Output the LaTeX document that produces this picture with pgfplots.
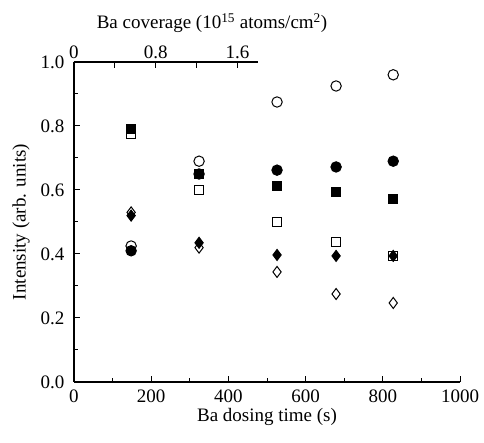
\documentclass[border=0pt]{standalone}
\usepackage{pgfplots}
\pgfplotsset{compat=1.18}
\usepackage{fontspec}
\setmainfont{Liberation Serif}
\begin{document}
\begin{tikzpicture}
\useasboundingbox (-74pt,-61pt) rectangle (410pt,382pt);
\begin{axis}[name=main, width=386pt, height=320pt, scale only axis,
  xmin=0, xmax=1000, ymin=0, ymax=1,
  axis x line=bottom, axis y line=left,
  axis line style={-, line width=1.2pt},
  tick align=inside, tick style={black, line width=1pt},
  major tick length=6pt, minor tick length=4pt,
  xtick={0,200,400,600,800,1000}, minor xtick={100,300,500,700,900},
  ytick={0,0.2,0.4,0.6,0.8,1.0}, minor ytick={0.1,0.3,0.5,0.7,0.9},
  xticklabel style={yshift=-4pt, /pgf/number format/.cd, set thousands separator={}},
  yticklabel style={xshift=-6pt, /pgf/number format/.cd, fixed, fixed zerofill, precision=1},
  /pgf/number format/assume math mode=true,
  ticklabel style={font=\fontsize{19}{22}\selectfont},
  label style={font=\fontsize{19}{22}\selectfont},
  xlabel={Ba dosing time (s)},
  ylabel={Intensity (arb. units)},
  xlabel style={yshift=1pt},
  ylabel style={yshift=4pt},
  every axis plot/.append style={only marks, black, mark options={line width=1pt}},
]
% open circles
\addplot[mark=o, mark size=5.2pt] coordinates {(148,0.425) (324,0.69) (526,0.875) (679,0.925) (827,0.96)};
% filled circles
\addplot[mark=*, mark size=5.2pt] coordinates {(148,0.41) (324,0.65) (526,0.662) (679,0.672) (827,0.69)};
% open squares
\addplot[mark=square, mark size=4.7pt] coordinates {(148,0.775) (324,0.60) (526,0.50) (679,0.437) (827,0.394)};
% filled squares
\addplot[mark=square*, mark size=4.7pt] coordinates {(148,0.79) (324,0.65) (526,0.612) (679,0.593) (827,0.572)};
% open diamonds
\addplot[mark=diamond, mark size=5.5pt] coordinates {(148,0.53) (324,0.42) (526,0.344) (679,0.275) (827,0.247)};
% filled diamonds
\addplot[mark=diamond*, mark size=5.5pt] coordinates {(148,0.52) (324,0.435) (526,0.397) (679,0.394) (827,0.394)};
\end{axis}
\begin{axis}[at={(main.north west)}, anchor=north west,
  width=184pt, height=1pt, scale only axis,
  xmin=0, xmax=1.8, ymin=0, ymax=1,
  axis x line=top, hide y axis,
  axis line style={-, line width=1.2pt},
  tick align=inside, tick style={black, line width=1pt},
  major tick length=6pt, minor tick length=6pt,
  xtick={0,0.8,1.6}, minor xtick={0.4,1.2},
  xticklabels={0,0.8,1.6},
  ticklabel style={font=\fontsize{19}{22}\selectfont},
  label style={font=\fontsize{19}{22}\selectfont},
  xlabel={Ba coverage (10\textsuperscript{15} atoms/cm\textsuperscript{2})},
  xlabel style={xshift=46pt, yshift=6pt},
]
\addplot[draw=none] coordinates {(0,0)};
\end{axis}
\end{tikzpicture}
\end{document}
